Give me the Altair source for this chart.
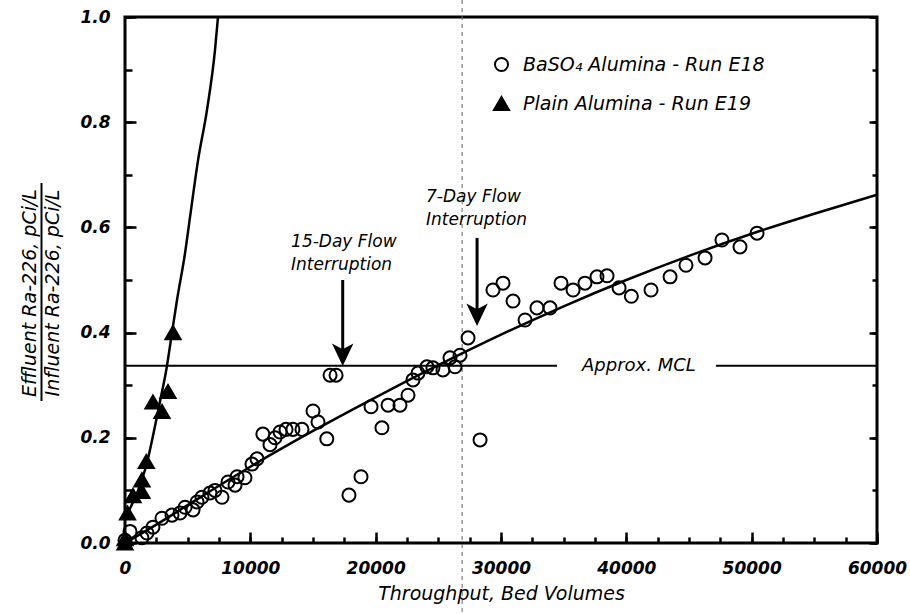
import altair as alt
import pandas as pd

FONT = "DejaVu Sans"
SERIES = ["BaSO\u2084  Alumina - Run E18", "Plain Alumina - Run E19"]

baso4_x = [0, 400, 1350, 1750, 2230, 2950, 3750, 4390, 4790, 5430, 5750, 6140, 6780, 7180,
           7740, 8220, 8780, 8940, 9570, 10130, 10530, 11000, 11570, 11970, 12370, 12850,
           13400, 14120, 15000, 15400, 16100, 16360, 16840, 17870, 18830, 19630, 20500,
           20990, 21940, 22580, 22980, 23380, 24090, 24570, 25370, 25930, 26330, 26730,
           27370, 28330, 29360, 30160, 30960, 31920, 32870, 33910, 34790, 35750, 36700,
           37660, 38460, 39420, 40400, 41970, 43490, 44760, 46280, 47630, 49070, 50430]
baso4_y = [0.005, 0.022, 0.010, 0.019, 0.030, 0.047, 0.053, 0.057, 0.068, 0.063, 0.078, 0.087,
           0.095, 0.100, 0.087, 0.116, 0.110, 0.126, 0.124, 0.150, 0.160, 0.207, 0.187, 0.200,
           0.211, 0.216, 0.216, 0.216, 0.251, 0.230, 0.198, 0.319, 0.319, 0.091, 0.126, 0.259,
           0.219, 0.262, 0.262, 0.281, 0.310, 0.323, 0.335, 0.333, 0.329, 0.352, 0.335, 0.357,
           0.390, 0.196, 0.481, 0.494, 0.460, 0.424, 0.447, 0.447, 0.494, 0.481, 0.494, 0.506,
           0.508, 0.485, 0.469, 0.481, 0.506, 0.528, 0.542, 0.576, 0.563, 0.589]

plain_x = [0, 0, 200, 640, 1350, 1350, 1700, 2230, 2950, 3430, 3830]
plain_y = [0.0, 0.008, 0.057, 0.090, 0.098, 0.120, 0.155, 0.268, 0.250, 0.288, 0.400]

# ---- fitted curves ----
fit_baso4_x = [0, 2500, 5000, 10000, 15000, 20000, 25000, 30000, 35000, 40000, 45000,
               50000, 55000, 60000]
fit_baso4_y = [0.0, 0.035, 0.072, 0.145, 0.213, 0.277, 0.338, 0.396, 0.450, 0.500, 0.546,
               0.588, 0.626, 0.662]

fit_plain_x = [0, 240, 1040, 1750, 2200, 2800, 3300, 3750, 4150, 4790, 5190, 5830, 6540, 7180, 7420]
fit_plain_y = [0.044, 0.057, 0.100, 0.152, 0.200, 0.270, 0.330, 0.400, 0.462, 0.551, 0.620,
               0.728, 0.823, 0.937, 1.0]

# ---- MCL line and annotations ----
mcl_level = 0.337
mcl_start = [0, 47150]
mcl_end = [34470, 60000]
mcl_label = ["Approx. MCL"]
mcl_label_x = [41000]

note_text = ["15-Day Flow\nInterruption", "7-Day Flow\nInterruption"]
note_x = [13250, 24020]
note_y = [0.563, 0.648]
arrow_x = [17370, 28090]
arrow_top = [0.50, 0.58]
arrow_head = [0.359, 0.435]

fold_x = [26900]

x_major = [0, 10000, 20000, 30000, 40000, 50000, 60000]
x_minor = [i * 2500 for i in range(25)]
y_major = [0.0, 0.2, 0.4, 0.6, 0.8, 1.0]
y_minor = [i / 10 for i in range(11)]

y_title = ["Effluent Ra-226, pCi/L", "Influent Ra-226, pCi/L"]
x_title = "Throughput, Bed Volumes"

# ---- tables ----
pts_df = pd.DataFrame({
    "x": baso4_x + plain_x,
    "y": baso4_y + plain_y,
    "series": [SERIES[0]] * len(baso4_x) + [SERIES[1]] * len(plain_x),
})
fit_df = pd.DataFrame({
    "x": fit_baso4_x + fit_plain_x,
    "y": fit_baso4_y + fit_plain_y,
    "series": [SERIES[0]] * len(fit_baso4_x) + [SERIES[1]] * len(fit_plain_x),
})
mcl_df = pd.DataFrame({"x1": mcl_start, "x2": mcl_end, "y": [mcl_level] * len(mcl_start)})
mcl_lab_df = pd.DataFrame({"x": mcl_label_x, "y": [mcl_level], "t": mcl_label})
note_df = pd.DataFrame({"x": note_x, "y": note_y, "t": note_text})
arrow_df = pd.DataFrame({"x": arrow_x, "top": arrow_top, "head": arrow_head})
fold_df = pd.DataFrame({"x": fold_x})

W, H = 752, 526
xs = alt.Scale(domain=[0, 60000], nice=False, zero=False)
ys = alt.Scale(domain=[0, 1], nice=False, zero=False)


def tick_axis(values, orient, size, labels=False, **kw):
    base = dict(values=values, orient=orient, labels=labels, ticks=True,
                tickSize=alt.ExprRef(expr=str(-size)), tickWidth=2.5, tickColor="black",
                domain=False, grid=False, title=None)
    base.update(kw)
    return alt.Axis(**base)


label_style = dict(labelFont=FONT, labelFontSize=17, labelFontWeight="bold",
                   labelFontStyle="italic", labelColor="black", labelFlush=False,
                   labelOverlap=False)

legend = alt.Legend(title=None, orient="none", legendX=367, legendY=38, padding=0,
                    labelFont=FONT, labelFontSize=19, labelFontStyle="italic",
                    labelColor="black", symbolStrokeColor="black",
                    symbolStrokeWidth=2, labelOffset=12, rowPadding=16, labelLimit=500)

points = alt.Chart(pts_df).mark_point(filled=True, strokeWidth=2, opacity=1).encode(
    x=alt.X("x:Q", scale=xs, axis=tick_axis(
        x_major, "bottom", 11, labels=True, format="d", labelPadding=28,
        title=x_title, titleFont=FONT, titleFontSize=19, titleFontStyle="italic",
        titleFontWeight="normal", titleColor="black", titlePadding=8, **label_style)),
    y=alt.Y("y:Q", scale=ys, axis=tick_axis(
        y_major, "left", 11, labels=True, format=".1f", labelPadding=26, **label_style)),
    shape=alt.Shape("series:N", scale=alt.Scale(domain=SERIES, range=["circle", "triangle-up"]),
                    legend=legend),
    fill=alt.Fill("series:N", scale=alt.Scale(domain=SERIES, range=["transparent", "black"]),
                  legend=legend),
    stroke=alt.Stroke("series:N", scale=alt.Scale(domain=SERIES, range=["black", "black"]),
                      legend=legend),
    size=alt.Size("series:N", scale=alt.Scale(domain=SERIES, range=[170, 230]), legend=legend),
)

lines = alt.Chart(fit_df).mark_line(color="black", strokeWidth=2.5, interpolate="monotone").encode(
    x=alt.X("x:Q", scale=xs, axis=tick_axis(x_minor, "bottom", 6)),
    y=alt.Y("y:Q", scale=ys, axis=tick_axis(y_minor, "left", 7)),
    detail="series:N",
)

mcl = alt.Chart(mcl_df).mark_rule(color="black", strokeWidth=2).encode(
    x=alt.X("x1:Q", scale=xs, axis=None),
    x2="x2:Q",
    y=alt.Y("y:Q", scale=ys, axis=tick_axis(y_major, "right", 8)),
)

shafts = alt.Chart(arrow_df).mark_rule(color="black", strokeWidth=3).encode(
    x=alt.X("x:Q", scale=xs, axis=None),
    y=alt.Y("top:Q", scale=ys, axis=tick_axis(y_minor, "right", 5)),
    y2="head:Q",
)

heads = alt.Chart(arrow_df).mark_point(shape="M0,1.1 L-1,-1 L0,-0.45 L1,-1 Z", filled=True,
                                       color="black", opacity=1, size=460, strokeWidth=0).encode(
    x=alt.X("x:Q", scale=xs, axis=None),
    y=alt.Y("head:Q", scale=ys, axis=None),
)

notes = alt.Chart(note_df).mark_text(align="left", baseline="alphabetic", lineBreak="\n",
                                     lineHeight=23, font=FONT, fontSize=17, fontStyle="italic",
                                     color="black").encode(
    x=alt.X("x:Q", scale=xs, axis=None),
    y=alt.Y("y:Q", scale=ys, axis=None),
    text="t:N",
)

mcl_text = alt.Chart(mcl_lab_df).mark_text(align="center", baseline="middle", font=FONT,
                                           fontSize=18, fontStyle="italic", color="black").encode(
    x=alt.X("x:Q", scale=xs, axis=None),
    y=alt.Y("y:Q", scale=ys, axis=None),
    text="t:N",
)

fold = alt.Chart(fold_df).mark_rule(color="#666666", strokeWidth=1, strokeDash=[4, 4]).encode(
    x=alt.X("x:Q", scale=xs, axis=None),
    y=alt.value(-17),
    y2=alt.value(597),
)

one = alt.Data(values=[{}])
yt1 = alt.Chart(one).mark_text(angle=270, align="center", baseline="middle", font=FONT,
                               fontSize=19, fontStyle="italic", color="black").encode(
    x=alt.value(-95), y=alt.value(276), text=alt.value(y_title[0]))
yt2 = alt.Chart(one).mark_text(angle=270, align="center", baseline="middle", font=FONT,
                               fontSize=19, fontStyle="italic", color="black").encode(
    x=alt.value(-72), y=alt.value(276), text=alt.value(y_title[1]))
ydiv = alt.Chart(one).mark_rule(color="black", strokeWidth=2).encode(
    x=alt.value(-83.5), y=alt.value(166), y2=alt.value(384))

chart = alt.layer(
    fold, mcl, lines, shafts, heads, points, notes, mcl_text, yt1, yt2, ydiv
).resolve_axis(x="independent", y="independent").properties(
    width=W, height=H,
    padding={"left": 125, "top": 17, "right": 33, "bottom": 71},
    autosize=alt.AutoSizeParams(type="none"),
    background="white",
).configure_view(stroke="black", strokeWidth=3)

chart.save("out.html", embed_options={"renderer": "svg", "actions": False})
